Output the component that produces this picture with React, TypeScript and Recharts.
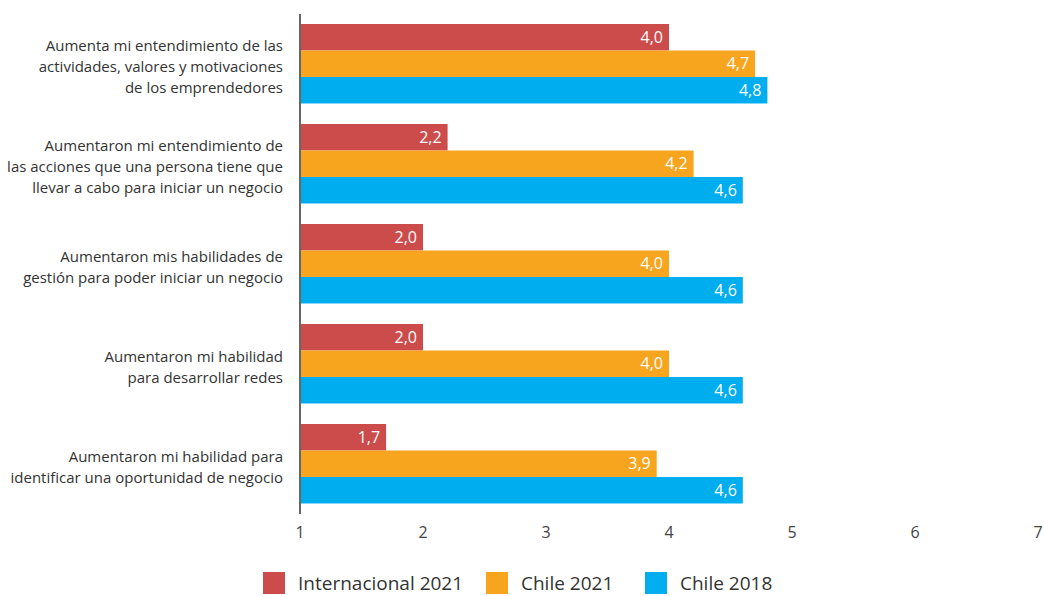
import React from "react";
import { BarChart, Bar, XAxis, YAxis, LabelList } from "recharts";

const categories = [
  ["Aumenta mi entendimiento de las", "actividades, valores y motivaciones", "de los emprendedores"],
  ["Aumentaron mi entendimiento de", "las acciones que una persona tiene que", "llevar a cabo para iniciar un negocio"],
  ["Aumentaron mis habilidades de", "gestión para poder iniciar un negocio"],
  ["Aumentaron mi habilidad", "para desarrollar redes"],
  ["Aumentaron mi habilidad para", "identificar una oportunidad de negocio"],
];
const internacional2021 = [4.0, 2.2, 2.0, 2.0, 1.7];
const chile2021 = [4.7, 4.2, 4.0, 4.0, 3.9];
const chile2018 = [4.8, 4.6, 4.6, 4.6, 4.6];
const xTicks = [1, 2, 3, 4, 5, 6, 7];

const series = [
  { key: "int21", name: "Internacional 2021", color: "#CC4C4B" },
  { key: "cl21", name: "Chile 2021", color: "#F7A51E" },
  { key: "cl18", name: "Chile 2018", color: "#00AEEF" },
];

const data = categories.map((c, i) => ({
  name: c.join(" "),
  int21: internacional2021[i],
  cl21: chile2021[i],
  cl18: chile2018[i],
}));

const FONT = "'Open Sans', sans-serif";

const CategoryTick = (props: any) => {
  const { x, y, payload } = props;
  const lines = categories[payload.index] || [payload.value];
  const lh = 21;
  const start = -((lines.length - 1) * lh) / 2 + 3;
  return (
    <text x={x - 9} y={y} textAnchor="end" fontSize={15} fill="#333" fontFamily={FONT}>
      {lines.map((l: string, i: number) => (
        <tspan key={i} x={x - 9} y={y + start + i * lh} dy="0.35em">
          {l}
        </tspan>
      ))}
    </text>
  );
};

const fmt = (v: any) => Number(v).toFixed(1).replace(".", ",");

export default function App() {
  return (
    <div style={{ position: "absolute", left: 0, top: 0, width: 1044, height: 596, background: "#fff" }}>
      <BarChart
        width={1044}
        height={596}
        data={data}
        layout="vertical"
        margin={{ top: 14, right: 6, left: 0, bottom: 52 }}
        barSize={26.5}
        barGap={0}
      >
        <XAxis
          type="number"
          domain={[1, 7]}
          ticks={xTicks}
          axisLine={false}
          tickLine={false}
          height={30}
          tick={{ fontSize: 16, fill: "#444", fontFamily: FONT, dy: 5 }}
        />
        <YAxis
          type="category"
          dataKey="name"
          width={300}
          tickLine={false}
          axisLine={{ stroke: "#666", strokeWidth: 2 }}
          tick={<CategoryTick />}
          interval={0}
        />
        {series.map((s) => (
          <Bar key={s.key} dataKey={s.key} name={s.name} fill={s.color} isAnimationActive={false}>
            <LabelList
              dataKey={s.key}
              position="insideRight"
              offset={6}
              fill="#fff"
              fontSize={16}
              fontFamily={FONT}
              formatter={fmt}
            />
          </Bar>
        ))}
      </BarChart>
      <div style={{ position: "absolute", top: 570, left: 0, width: 1044, height: 24 }}>
        {series.map((s, i) => (
          <div
            key={s.key}
            style={{
              position: "absolute",
              left: [263, 486, 645][i],
              top: 0,
              display: "flex",
              alignItems: "center",
              fontFamily: FONT,
              fontSize: 19,
              color: "#333",
              whiteSpace: "nowrap",
            }}
          >
            <span style={{ display: "inline-block", width: 22, height: 22, background: s.color, marginRight: 13 }} />
            {s.name}
          </div>
        ))}
      </div>
    </div>
  );
}
